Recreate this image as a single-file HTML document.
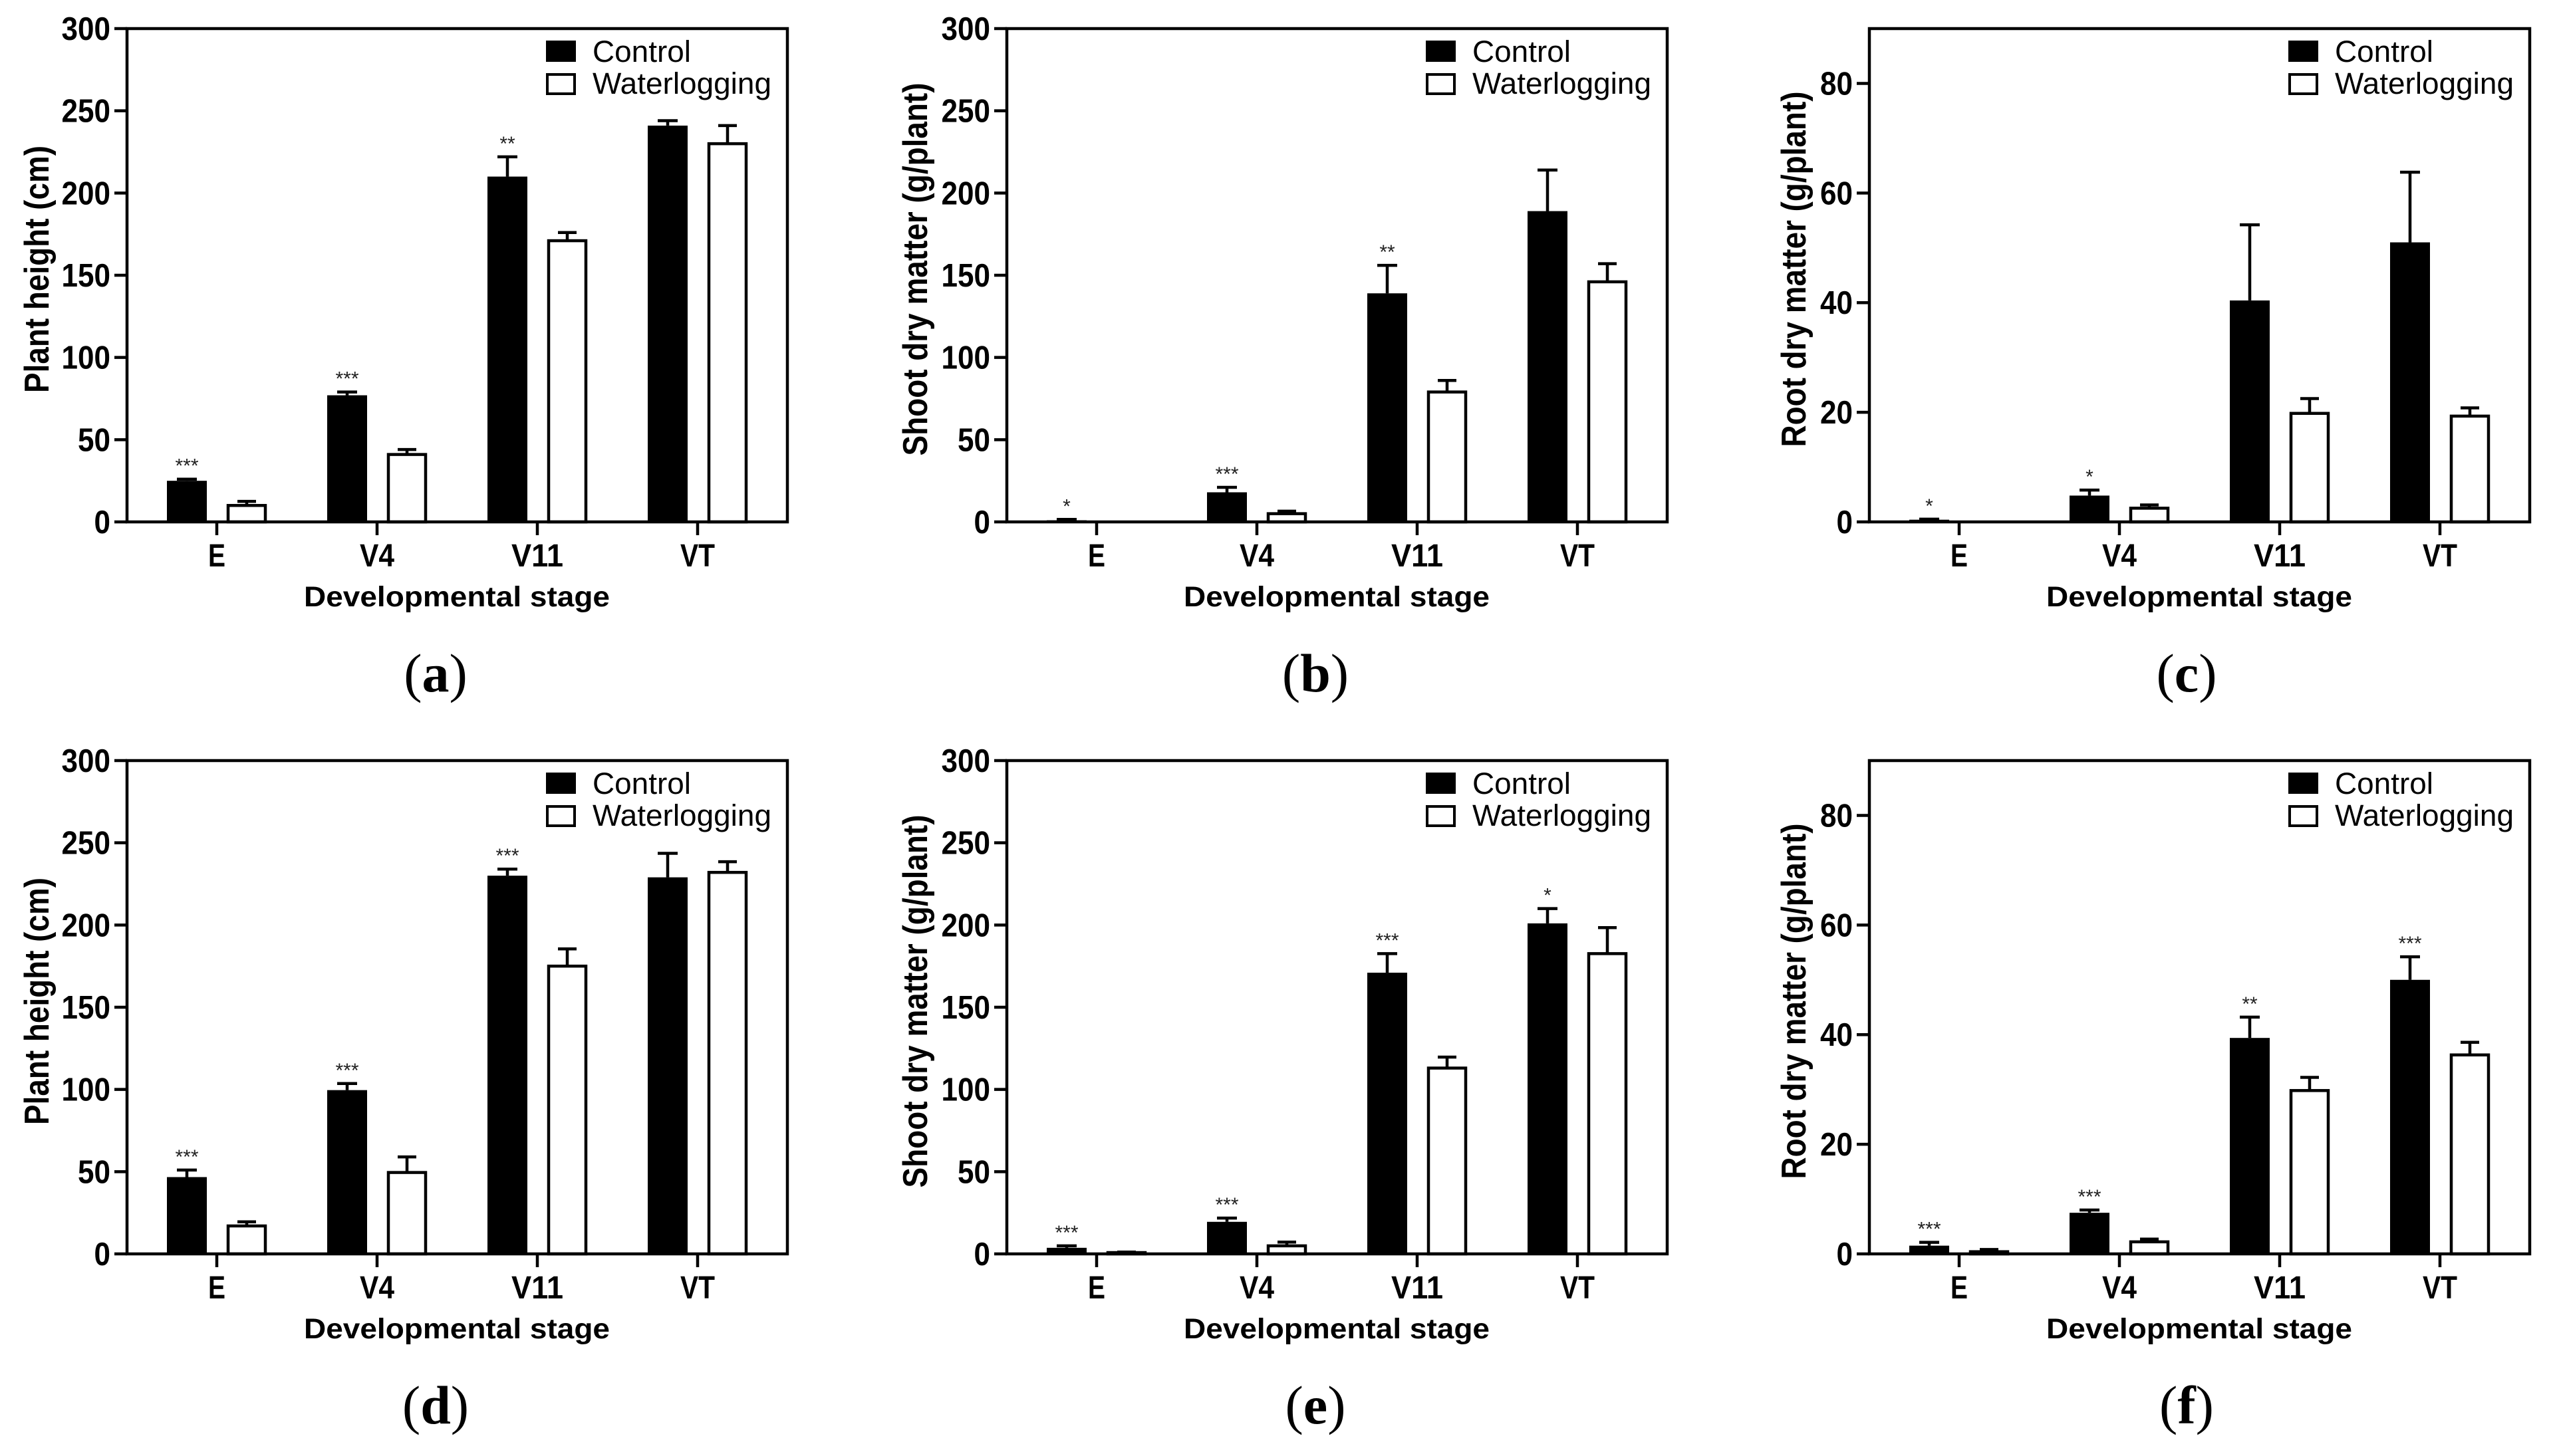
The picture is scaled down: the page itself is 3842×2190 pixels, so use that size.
<!DOCTYPE html>
<html><head><meta charset="utf-8"><style>
html,body{margin:0;padding:0;background:#fff;}
svg{display:block;}
text{font-family:"Liberation Sans",Arial,sans-serif;}
</style></head><body>
<svg id="fig" xmlns="http://www.w3.org/2000/svg" width="3842" height="2190" viewBox="0 0 3842 2190"></svg>
<script>
const categories = ["E","V4","V11","VT"];
// panel a: plant height
const aControl = [25, 77, 210, 241];
const aControlErr = [1, 2, 12, 3];
const aWater = [10, 41, 171, 230];
const aWaterErr = [2.5, 3, 5, 11];
const aStars = ["***","***","**",""];
// panel b: shoot dry matter
const bControl = [1, 18, 139, 189];
const bControlErr = [0.5, 3, 17, 25];
const bWater = [0, 5, 79, 146];
const bWaterErr = [0, 1.5, 7, 11];
const bStars = ["*","***","**",""];
// panel c: root dry matter
const cControl = [0.4, 4.8, 40.4, 51];
const cControlErr = [0.1, 1, 13.8, 12.8];
const cWater = [0, 2.5, 19.8, 19.3];
const cWaterErr = [0, 0.6, 2.7, 1.5];
const cStars = ["*","*","",""];
// panel d: plant height
const dControl = [46.7, 99.6, 230, 229];
const dControlErr = [4.3, 4, 4, 14.6];
const dWater = [17, 49.5, 175, 232];
const dWaterErr = [2.5, 9.5, 10.5, 6.5];
const dStars = ["***","***","***",""];
// panel e: shoot dry matter
const eControl = [3.7, 19.5, 171, 201];
const eControlErr = [1.2, 2.3, 11.6, 9];
const eWater = [0.8, 4.9, 113, 182.6];
const eWaterErr = [0.3, 2.3, 6.7, 15.8];
const eStars = ["***","***","***","*"];
// panel f: root dry matter
const fControl = [1.5, 7.5, 39.4, 50];
const fControlErr = [0.6, 0.5, 3.8, 4.2];
const fWater = [0.4, 2.2, 29.8, 36.3];
const fWaterErr = [0.4, 0.5, 2.4, 2.3];
const fStars = ["***","***","**","***"];

const ticks300 = [0, 50, 100, 150, 200, 250, 300];
const ticks90 = [0, 20, 40, 60, 80];

const panels = [
 {id:"a", ox:0, oy:0, ymax:300, ticks:ticks300, title:"Plant height (cm)", tl:372, tx:73, lx:655, ctl:aControl, ctlE:aControlErr, wl:aWater, wlE:aWaterErr, stars:aStars},
 {id:"b", ox:1323, oy:0, ymax:300, ticks:ticks300, title:"Shoot dry matter (g/plant)", tl:561, tx:71, lx:655, ctl:bControl, ctlE:bControlErr, wl:bWater, wlE:bWaterErr, stars:bStars},
 {id:"c", ox:2620, oy:0, ymax:90, ticks:ticks90, title:"Root dry matter (g/plant)", tl:535, tx:95, lx:668, ctl:cControl, ctlE:cControlErr, wl:cWater, wlE:cWaterErr, stars:cStars},
 {id:"d", ox:0, oy:1101, ymax:300, ticks:ticks300, title:"Plant height (cm)", tl:372, tx:73, lx:655, ctl:dControl, ctlE:dControlErr, wl:dWater, wlE:dWaterErr, stars:dStars},
 {id:"e", ox:1323, oy:1101, ymax:300, ticks:ticks300, title:"Shoot dry matter (g/plant)", tl:561, tx:71, lx:655, ctl:eControl, ctlE:eControlErr, wl:eWater, wlE:eWaterErr, stars:eStars},
 {id:"f", ox:2620, oy:1101, ymax:90, ticks:ticks90, title:"Root dry matter (g/plant)", tl:535, tx:95, lx:668, ctl:fControl, ctlE:fControlErr, wl:fWater, wlE:fWaterErr, stars:fStars}
];

const NS = "http://www.w3.org/2000/svg";
const svg = document.getElementById("fig");
function mk(tag, attrs, parent, txt){
  const el = document.createElementNS(NS, tag);
  for (const k in attrs) el.setAttribute(k, attrs[k]);
  if (txt !== undefined) el.textContent = txt;
  parent.appendChild(el);
  return el;
}
const SW = 4.5;
panels.forEach(p => {
  const g = mk("g", {}, svg);
  
  
  const L = p.ox + 191, R = p.ox + 1184, T = p.oy + 43, B = p.oy + 785;
  const y = v => B - (v / p.ymax) * (B - T);
  const xc = i => p.ox + 326 + i * 241;

  categories.forEach((c, i) => {
    const cx = xc(i);
    const cTop = y(p.ctl[i]);
    const eTop = y(p.ctl[i] + p.ctlE[i]);
    if (p.ctlE[i] > 0) {
      const el = mk("path", {d:`M${cx-45} ${cTop} V${eTop} M${cx-60} ${eTop} H${cx-30}`, stroke:"#000", "stroke-width":SW, fill:"none"}, g);
      
      
    }
    const cb = mk("rect", {x:cx-75, y:cTop, width:60, height:Math.max(B-cTop,0), fill:"#000"}, g);
    
    
    const wTop = y(p.wl[i]);
    const wTopE = y(p.wl[i] + p.wlE[i]);
    if (p.wlE[i] > 0) {
      const el = mk("path", {d:`M${cx+45} ${wTop} V${wTopE} M${cx+31} ${wTopE} H${cx+59}`, stroke:"#000", "stroke-width":SW, fill:"none"}, g);
      
      
    }
    const wb = mk("rect", {x:cx+17, y:wTop, width:56, height:Math.max(B-wTop,0), fill:"#fff", stroke:"#000", "stroke-width":SW}, g);
    
    
    if (p.stars[i]) {
      const st = mk("text", {x:cx-45, y:eTop-10, "text-anchor":"middle", "font-size":30, fill:"#222"}, g, p.stars[i]);
      
      
    }
    const tk = mk("line", {x1:cx, x2:cx, y1:B, y2:B+20, stroke:"#000", "stroke-width":SW}, g);
    
    
    const tl = mk("text", {x:cx, y:p.oy+852, "text-anchor":"middle", "font-size":48, "font-weight":"bold", textLength: c.length*26, lengthAdjust:"spacingAndGlyphs"}, g, c);
    
    
  });

  const fr = mk("rect", {x:L, y:T, width:R-L, height:B-T, fill:"none", stroke:"#000", "stroke-width":SW}, g);
  
  

  p.ticks.forEach(t => {
    const ty = y(t);
    const ln = mk("line", {x1:p.ox+172, x2:L, y1:ty, y2:ty, stroke:"#000", "stroke-width":SW}, g);
    
    
    const s = String(t);
    const lb = mk("text", {x:p.ox+166, y:ty+17, "text-anchor":"end", "font-size":49, "font-weight":"bold", textLength:s.length*24.5, lengthAdjust:"spacingAndGlyphs"}, g, s);
    
    
  });

  const xt = mk("text", {x:p.ox+687, y:p.oy+912, "text-anchor":"middle", "font-size":43, "font-weight":"bold", textLength:460, lengthAdjust:"spacingAndGlyphs"}, g, "Developmental stage");
  
  
  const cyT = p.oy + 405;
  const yt = mk("text", {x:p.ox+p.tx, y:cyT, transform:`rotate(-90 ${p.ox+p.tx} ${cyT})`, "text-anchor":"middle", "font-size":52, "font-weight":"bold", textLength:p.tl, lengthAdjust:"spacingAndGlyphs"}, g, p.title);
  
  

  const lg = mk("g", {}, g);
  
  
  const lx0 = L + 630;
  const b1 = mk("rect", {x:lx0, y:p.oy+61, width:45, height:32, fill:"#000"}, lg);
  
  
  const t1 = mk("text", {x:lx0+70, y:p.oy+93, "font-size":45, textLength:148, lengthAdjust:"spacingAndGlyphs"}, lg, "Control");
  
  
  const b2 = mk("rect", {x:lx0+2, y:p.oy+112, width:41, height:29, fill:"#fff", stroke:"#000", "stroke-width":4}, lg);
  
  
  const t2 = mk("text", {x:lx0+70, y:p.oy+141, "font-size":45, textLength:269, lengthAdjust:"spacingAndGlyphs"}, lg, "Waterlogging");
  
  

  const pl = mk("text", {x:p.ox+p.lx, y:p.oy+1040, "text-anchor":"middle", "font-size":82, style:'font-family:"Liberation Serif",serif'}, g);
  
  
  mk("tspan", {}, pl, "(");
  mk("tspan", {"font-weight":"bold"}, pl, p.id);
  mk("tspan", {}, pl, ")");
});
</script>
</body></html>
